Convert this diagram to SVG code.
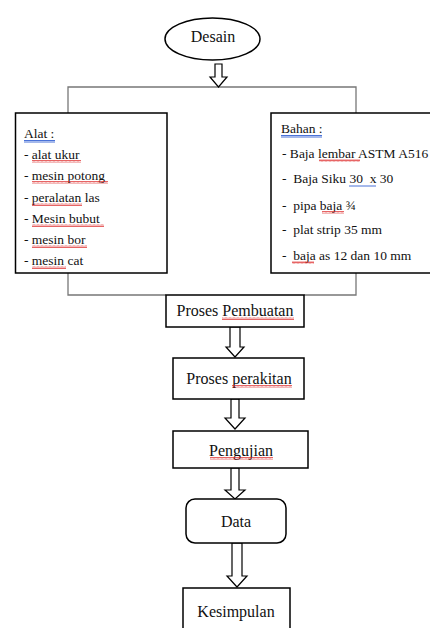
<svg xmlns="http://www.w3.org/2000/svg" width="430" height="628" viewBox="0 0 430 628" font-family="'Liberation Serif', 'Times New Roman', 'DejaVu Serif', serif">
<style>
.box{fill:#fff;stroke:#000;stroke-width:1.5}
.conn{fill:none;stroke:#777;stroke-width:1.3}
.arr{fill:#fff;stroke:#000;stroke-width:1.2;stroke-linejoin:miter}
text{font-family:'Liberation Serif','Times New Roman','DejaVu Serif',serif;fill:#111}
.big{font-size:16px}
.lst{font-size:13.5px}
.blue{stroke:#4a72d8;stroke-width:1;fill:none}
</style>
<defs>
<pattern id="wavy" width="4" height="3" patternUnits="userSpaceOnUse">
<path d="M0 2.5 L1 0.5 L2 2.5 L3 0.5 L4 2.5" fill="none" stroke="#d22" stroke-width="0.7"/>
</pattern>
</defs>
<rect width="430" height="628" fill="#fff"/>
<g id="connectors">
<polyline class="conn" points="68,113 68,87 356,87 356,113"/>
<polyline class="conn" points="68,273 68,295 166,295"/>
<polyline class="conn" points="356,273 356,295 304,295"/>
<path class="arr" d="M215,64 H222 V77 H227 L218.5,87 L210,77 H215 Z"/>
<path class="arr" d="M230,327 H240 V347 H244 L235,357 L226,347 H230 Z"/>
<path class="arr" d="M231,399 H239 V418 H245 L235,429 L225,418 H231 Z"/>
<path class="arr" d="M231,468 H239 V490 H245 L235,499 L225,490 H231 Z"/>
<path class="arr" d="M232,543 H242 V576 H247 L237,587 L227,576 H232 Z"/>
</g>
<g id="desain">
<ellipse class="box" cx="212.5" cy="39" rx="47.5" ry="21"/>
<text class="big" x="213" y="42" text-anchor="middle">Desain</text>
</g>
<g id="alat">
<rect class="box" x="15.5" y="113" width="151.5" height="160"/>
<text class="lst" x="24" y="138">Alat :</text>
<line class="blue" x1="24" y1="140.5" x2="55" y2="140.5"/>
<line class="blue" x1="24" y1="142" x2="55" y2="142"/>
<text class="lst" x="24" y="159">- alat ukur</text>
<text class="lst" x="24" y="180">- mesin potong</text>
<text class="lst" x="24" y="202">- peralatan las</text>
<text class="lst" x="24" y="223">- Mesin bubut</text>
<text class="lst" x="24" y="244">- mesin bor</text>
<text class="lst" x="24" y="265">- mesin cat</text>
<rect x="32" y="160" width="49" height="3" fill="url(#wavy)"/>
<rect x="32" y="181" width="76" height="3" fill="url(#wavy)"/>
<rect x="32" y="203" width="50" height="3" fill="url(#wavy)"/>
<rect x="32" y="224" width="72" height="3" fill="url(#wavy)"/>
<rect x="32" y="245" width="55" height="3" fill="url(#wavy)"/>
<rect x="32" y="266" width="34" height="3" fill="url(#wavy)"/>
</g>
<g id="bahan">
<rect class="box" x="271" y="113" width="170" height="160"/>
<text class="lst" x="281" y="133">Bahan :</text>
<line class="blue" x1="281" y1="135.5" x2="322" y2="135.5"/>
<line class="blue" x1="281" y1="137" x2="322" y2="137"/>
<text class="lst" x="282" y="158" xml:space="preserve">- Baja lembar ASTM A516</text>
<text class="lst" x="282" y="183" xml:space="preserve">-  Baja Siku 30  x 30</text>
<text class="lst" x="282" y="210" xml:space="preserve">-  pipa baja ¾</text>
<text class="lst" x="282" y="234" xml:space="preserve">-  plat strip 35 mm</text>
<text class="lst" x="282" y="260" xml:space="preserve">-  baja as 12 dan 10 mm</text>
<rect x="319" y="159" width="41" height="3" fill="url(#wavy)"/>
<line class="blue" x1="349" y1="186" x2="376" y2="186"/>
<rect x="322" y="211" width="22" height="3" fill="url(#wavy)"/>
<rect x="292" y="261" width="22" height="3" fill="url(#wavy)"/>
</g>
<g id="pembuatan">
<rect class="box" x="166" y="295" width="138" height="32"/>
<text class="big" x="235" y="316" text-anchor="middle">Proses Pembuatan</text>
<rect x="222" y="317" width="72" height="3" fill="url(#wavy)"/>
</g>
<g id="perakitan">
<rect class="box" x="173" y="358" width="131" height="41"/>
<text class="big" x="239" y="384" text-anchor="middle">Proses perakitan</text>
<rect x="232" y="385" width="60" height="3" fill="url(#wavy)"/>
</g>
<g id="pengujian">
<rect class="box" x="173" y="431" width="135" height="37"/>
<text class="big" x="241" y="456" text-anchor="middle">Pengujian</text>
<rect x="210" y="457" width="63" height="3" fill="url(#wavy)"/>
</g>
<g id="data">
<rect class="box" x="186" y="499" width="100" height="44" rx="9"/>
<text class="big" x="236" y="527" text-anchor="middle">Data</text>
</g>
<g id="kesimpulan">
<rect class="box" x="183" y="588" width="107" height="50"/>
<text class="big" x="236" y="617" text-anchor="middle">Kesimpulan</text>
</g>
</svg>
